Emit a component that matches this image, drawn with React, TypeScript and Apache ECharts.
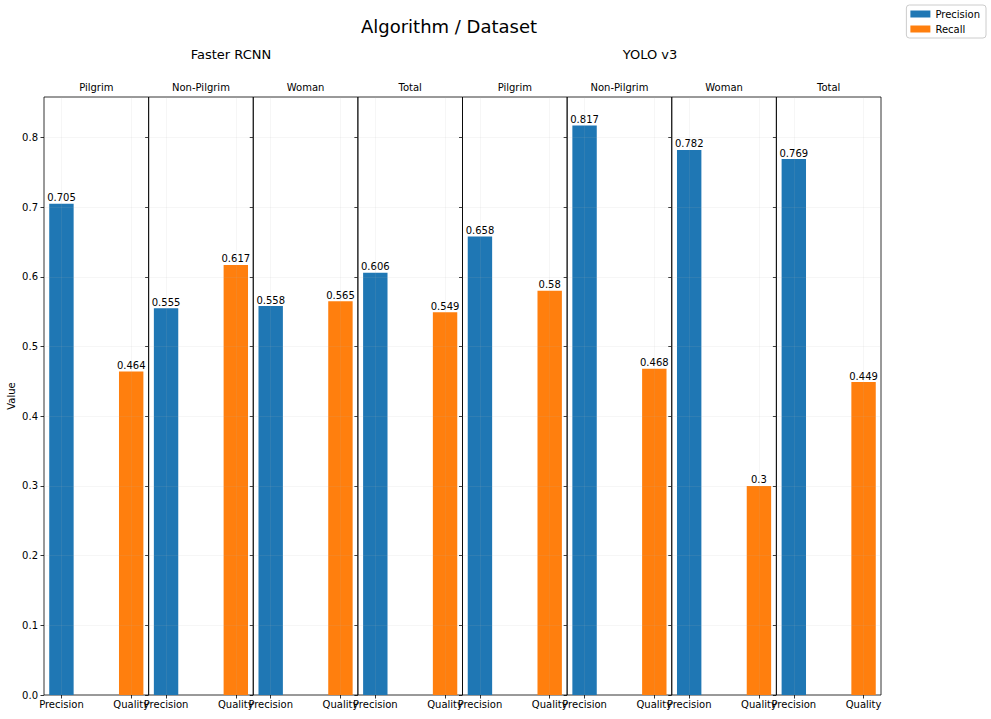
import React, { useEffect, useRef } from 'react';
import * as echarts from 'echarts';

const algorithms = ['Faster RCNN', 'YOLO v3'];
const datasets = ['Pilgrim', 'Non-Pilgrim', 'Woman', 'Total'];
const metricLabels = ['Precision', 'Quality'];
const seriesNames = ['Precision', 'Recall'];
const precisionValues = [0.705, 0.555, 0.558, 0.606, 0.658, 0.817, 0.782, 0.769];
const recallValues = [0.464, 0.617, 0.565, 0.549, 0.58, 0.468, 0.3, 0.449];
const yTicks = [0, 0.1, 0.2, 0.3, 0.4, 0.5, 0.6, 0.7, 0.8];
const yMax = 0.858;

const FONT = 'DejaVu Sans, sans-serif';
const BLUE = '#1f77b4';
const ORANGE = '#ff7f0e';

const PLOT_LEFT = 44;
const PLOT_RIGHT = 881;
const PLOT_TOP = 97;
const PLOT_BOTTOM = 695;

export default function App() {
  const ref = useRef<HTMLDivElement>(null);

  useEffect(() => {
    if (!ref.current) return;
    const chart = echarts.init(ref.current, null, { renderer: 'svg' });
    const nPanels = algorithms.length * datasets.length;
    const panelW = (PLOT_RIGHT - PLOT_LEFT) / nPanels;

    const grids: any[] = [];
    const xAxes: any[] = [];
    const yAxes: any[] = [];
    const series: any[] = [];
    const graphics: any[] = [];

    for (let i = 0; i < nPanels; i++) {
      const left = PLOT_LEFT + i * panelW;
      grids.push({
        left,
        top: PLOT_TOP,
        width: panelW,
        height: PLOT_BOTTOM - PLOT_TOP,
        show: true,
        borderColor: '#000',
        borderWidth: 0.8,
        backgroundColor: 'transparent',
        containLabel: false,
      });
      xAxes.push({
        type: 'value',
        gridIndex: i,
        min: -0.25,
        max: 1.25,
        axisLine: { show: false, onZero: false },
        splitLine: { show: false },
        axisTick: {
          show: true,
          customValues: [0, 1],
          length: 3.5,
          lineStyle: { color: '#000', width: 0.8 },
        },
        axisLabel: {
          show: true,
          customValues: [0, 1],
          formatter: (v: number) => metricLabels[Math.round(v)] ?? '',
          fontSize: 10,
          fontFamily: FONT,
          color: '#000',
          margin: 4,
          hideOverlap: false,
        },
      });
      yAxes.push({
        type: 'value',
        gridIndex: i,
        min: 0,
        max: yMax,
        axisLine: { show: false, onZero: false },
        splitLine: { show: false },
        axisTick: {
          show: true,
          customValues: yTicks,
          length: 3.5,
          lineStyle: { color: '#000', width: 0.8 },
        },
        axisLabel: {
          show: i === 0,
          customValues: yTicks,
          formatter: (v: number) => v.toFixed(1),
          fontSize: 10,
          fontFamily: FONT,
          color: '#000',
          margin: 6,
        },
      });

      const labelCfg = {
        show: true,
        position: 'top',
        distance: 1,
        fontSize: 10,
        fontFamily: FONT,
        color: '#000',
        formatter: (p: any) => String(p.value[1]),
      };

      const hLines = yTicks.slice(1).map((t) => ({ yAxis: t }));
      const vLines = [0, 1].map((t) => ({ xAxis: t }));

      series.push({
        type: 'bar',
        name: seriesNames[0],
        xAxisIndex: i,
        yAxisIndex: i,
        barWidth: 24.4,
        barGap: '-100%',
        itemStyle: { color: BLUE },
        label: labelCfg,
        data: [[0, precisionValues[i]]],
      });
      series.push({
        type: 'bar',
        name: seriesNames[1],
        xAxisIndex: i,
        yAxisIndex: i,
        barWidth: 24.4,
        barGap: '-100%',
        itemStyle: { color: ORANGE },
        label: labelCfg,
        data: [[1, recallValues[i]]],
        markLine: {
          silent: true,
          symbol: ['none', 'none'],
          label: { show: false },
          lineStyle: { color: '#b0b0b0', opacity: 0.15, type: 'solid', width: 0.8 },
          data: [...hLines, ...vLines],
        },
      });

      graphics.push({
        type: 'text',
        x: left + panelW / 2,
        y: 87,
        style: {
          text: datasets[i % datasets.length],
          fontSize: 10,
          fontFamily: FONT,
          fill: '#000',
          textAlign: 'center',
          textVerticalAlign: 'middle',
        },
      });
    }

    graphics.push({
      type: 'text',
      x: 449,
      y: 26,
      style: {
        text: 'Algorithm / Dataset',
        fontSize: 18,
        fontFamily: FONT,
        fill: '#000',
        textAlign: 'center',
        textVerticalAlign: 'middle',
      },
    });
    const groupCenters = [231, 650];
    algorithms.forEach((a, k) => {
      graphics.push({
        type: 'text',
        x: groupCenters[k],
        y: 54,
        style: {
          text: a,
          fontSize: 13,
          fontFamily: FONT,
          fill: '#000',
          textAlign: 'center',
          textVerticalAlign: 'middle',
        },
      });
    });
    graphics.push({
      type: 'text',
      x: 11,
      y: 396,
      rotation: Math.PI / 2,
      style: {
        text: 'Value',
        fontSize: 10,
        fontFamily: FONT,
        fill: '#000',
        textAlign: 'center',
        textVerticalAlign: 'middle',
      },
    });

    chart.setOption({
      animation: false,
      backgroundColor: '#fff',
      grid: grids,
      xAxis: xAxes,
      yAxis: yAxes,
      series,
      graphic: graphics,
      legend: {
        data: seriesNames,
        orient: 'vertical',
        right: 5,
        top: 5,
        itemWidth: 20,
        itemHeight: 7,
        itemGap: 5,
        icon: 'rect',
        selectedMode: false,
        padding: [4, 6, 4, 4],
        borderColor: '#cccccc',
        borderWidth: 1,
        borderRadius: 3,
        textStyle: { fontSize: 10, fontFamily: FONT, color: '#000' },
      },
    });

    return () => chart.dispose();
  }, []);

  return (
    <div
      ref={ref}
      style={{ position: 'fixed', left: 0, top: 0, width: 991, height: 719 }}
    />
  );
}
